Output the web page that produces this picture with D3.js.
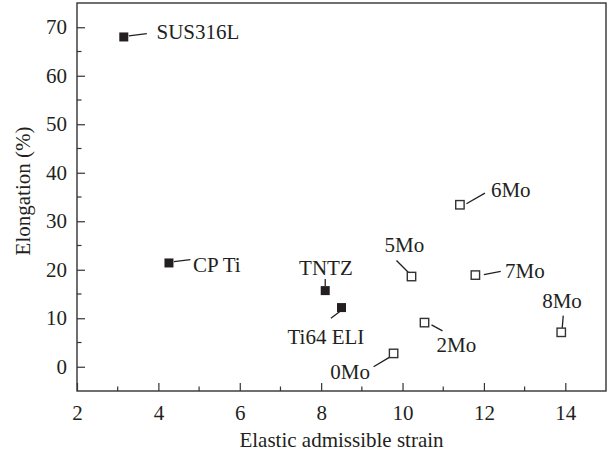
<!DOCTYPE html>
<html>
<head>
<meta charset="utf-8">
<script src="https://cdn.jsdelivr.net/npm/d3@7"></script>
<style>
  html, body { margin: 0; padding: 0; background: #fff; }
  svg { display: block; }
</style>
</head>
<body>
<svg id="chart" width="608" height="452"></svg>
<script>
// Alloys: elastic admissible strain vs. elongation
const alloys     = ["SUS316L", "CP Ti", "TNTZ", "Ti64 ELI", "0Mo", "2Mo", "5Mo", "6Mo", "7Mo", "8Mo"];
const strain     = [3.15, 4.26, 8.10, 8.50, 9.78, 10.54, 10.22, 11.41, 11.79, 13.90];
const elongation = [68.0, 21.4, 15.7, 12.2, 2.75, 9.1, 18.6, 33.4, 18.9, 7.1];
const group      = ["ref", "ref", "ref", "ref", "mo", "mo", "mo", "mo", "mo", "mo"];

const xTicks = [2, 4, 6, 8, 10, 12, 14];
const yTicks = [0, 10, 20, 30, 40, 50, 60, 70];
const xTitle = "Elastic admissible strain";
const yTitle = "Elongation (%)";

// Leader line (from/to) and label anchor, offsets in px from each marker
const callouts = {
  "SUS316L":  { l: [5, -1, 23, -3.4],   t: [32.7, 2.3],   a: "start"  },
  "CP Ti":    { l: [5, -1.3, 21.4, -3.3], t: [24, 9.4],   a: "start"  },
  "TNTZ":     { l: [0, -4.5, 0, -11.7], t: [0.7, -16],    a: "middle" },
  "Ti64 ELI": { l: [-1, 3.5, -10.6, 10.6], t: [-15.6, 36.6], a: "middle" },
  "0Mo":      { l: [-4.3, 4, -20, 13.3], t: [-23.6, 25.6], a: "end"   },
  "2Mo":      { l: [7, 2.3, 18, 8.3],   t: [12, 29.7],    a: "start"  },
  "5Mo":      { l: [-3, -4, -15, -16],  t: [-7.1, -25],   a: "middle" },
  "6Mo":      { l: [6.5, -1, 25, -11.6], t: [31, -7.6],   a: "start"  },
  "7Mo":      { l: [8.5, -0.4, 25.4, -3.7], t: [29.7, 3.3], a: "start" },
  "8Mo":      { l: [1, -4.4, 2, -16.7], t: [0.8, -24.4],  a: "middle" }
};

const W = 608, H = 452;
const margin = { top: 3, right: 2, bottom: 61, left: 77 };
const ink = "#231f20";
const fontSize = 21;
const serif = "Liberation Serif";

const svg = d3.select("#chart");
const x = d3.scaleLinear().domain([2, 15]).range([margin.left, W - margin.right]);
const y = d3.scaleLinear().domain([-5, 75]).range([H - margin.bottom, margin.top]);

// frame
svg.append("rect")
  .attr("x", x(2)).attr("y", y(75))
  .attr("width", x(15) - x(2)).attr("height", y(-5) - y(75))
  .attr("fill", "none").attr("stroke", "#333").attr("stroke-width", 1.4);

// minor ticks (inward)
const xMinor = d3.range(3, 15, 2);
const yMinor = d3.range(5, 75, 10);
svg.append("g").selectAll("line").data(xMinor).join("line")
  .attr("x1", d => x(d)).attr("x2", d => x(d))
  .attr("y1", y(-5)).attr("y2", y(-5) - 4.5)
  .attr("stroke", "#333").attr("stroke-width", 1.2);
svg.append("g").selectAll("line").data(yMinor).join("line")
  .attr("x1", x(2)).attr("x2", x(2) + 4.5)
  .attr("y1", d => y(d)).attr("y2", d => y(d))
  .attr("stroke", "#333").attr("stroke-width", 1.2);

// major axes
const xAxis = d3.axisBottom(x).tickValues(xTicks).tickSizeInner(-8).tickSizeOuter(0).tickPadding(14);
const yAxis = d3.axisLeft(y).tickValues(yTicks).tickSizeInner(-8).tickSizeOuter(0).tickPadding(10);

const gx = svg.append("g").attr("transform", `translate(0,${y(-5)})`).call(xAxis);
const gy = svg.append("g").attr("transform", `translate(${x(2)},0)`).call(yAxis);
[gx, gy].forEach(g => {
  g.attr("font-family", serif).attr("font-size", fontSize);
  g.select(".domain").remove();
  g.selectAll(".tick line").attr("stroke", "#333").attr("stroke-width", 1.2);
  g.selectAll(".tick text").attr("fill", ink);
});

// axis titles
svg.append("text")
  .attr("x", (x(2) + x(15)) / 2).attr("y", 447)
  .attr("text-anchor", "middle")
  .attr("font-family", serif).attr("font-size", fontSize).attr("fill", ink)
  .text(xTitle);
svg.append("text")
  .attr("transform", `translate(30,${(y(75) + y(-5)) / 2 - 6}) rotate(-90)`)
  .attr("text-anchor", "middle")
  .attr("font-family", serif).attr("font-size", fontSize).attr("fill", ink)
  .text(yTitle);

const pts = alloys.map((name, i) => ({
  name, sx: strain[i], el: elongation[i], g: group[i],
  px: x(strain[i]), py: y(elongation[i])
}));

// leader lines
svg.append("g").selectAll("line").data(pts).join("line")
  .attr("x1", d => d.px + callouts[d.name].l[0])
  .attr("y1", d => d.py + callouts[d.name].l[1])
  .attr("x2", d => d.px + callouts[d.name].l[2])
  .attr("y2", d => d.py + callouts[d.name].l[3])
  .attr("stroke", ink).attr("stroke-width", 1.3);

// markers
svg.append("g").selectAll("rect").data(pts.filter(d => d.g === "ref")).join("rect")
  .attr("x", d => d.px - 4.5).attr("y", d => d.py - 4.5)
  .attr("width", 9).attr("height", 9)
  .attr("fill", ink);
svg.append("g").selectAll("rect").data(pts.filter(d => d.g === "mo")).join("rect")
  .attr("x", d => d.px - 4.2).attr("y", d => d.py - 4.2)
  .attr("width", 8.4).attr("height", 8.4)
  .attr("fill", "#fff").attr("stroke", "#333").attr("stroke-width", 1.4);

// labels
svg.append("g").selectAll("text").data(pts).join("text")
  .attr("x", d => d.px + callouts[d.name].t[0])
  .attr("y", d => d.py + callouts[d.name].t[1])
  .attr("text-anchor", d => callouts[d.name].a)
  .attr("font-family", serif).attr("font-size", fontSize).attr("fill", ink)
  .text(d => d.name);
</script>
</body>
</html>
